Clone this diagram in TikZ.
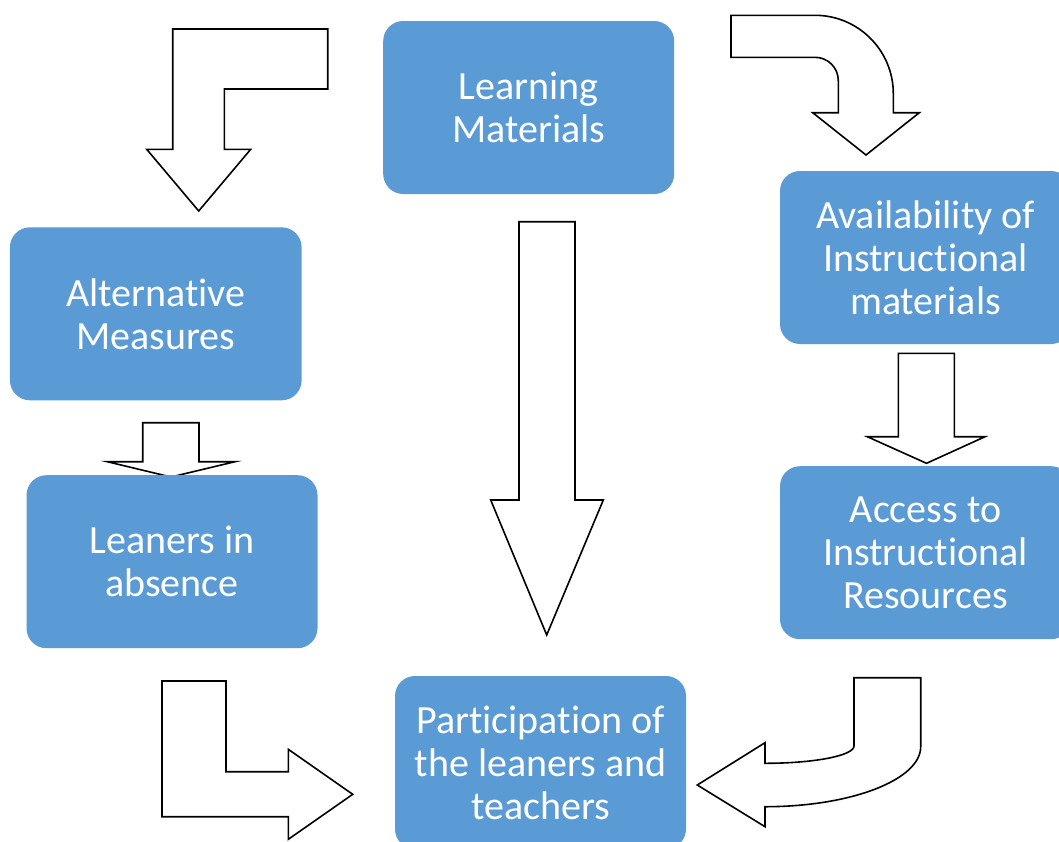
\documentclass[tikz,border=0pt]{standalone}
\usepackage{fontspec}
\setmainfont{Carlito}[Ligatures={NoCommon}]
\definecolor{boxblue}{HTML}{5B9BD5}
\tikzset{
  blockbox/.style={fill=boxblue, rounded corners=20pt, minimum width=291pt, minimum height=173pt,
    inner sep=0pt, text=white, align=center, font=\fontsize{40}{43}\selectfont},
  blockarrow/.style={draw=black, fill=white, line width=1.6pt, line join=miter}
}
\begin{document}
\begin{tikzpicture}[x=1pt,y=-1pt]
\useasboundingbox (0,0) rectangle (1059,841);
\clip (0,0) rectangle (1059,841);
\fill[white] (0,0) rectangle (1059,841);
% arrows
\draw[blockarrow] (172.7,29) -- (327.7,29) -- (327.7,89) -- (224.3,89) -- (224.3,149.3) -- (250.7,149.3) -- (198.7,211) -- (146.7,149.3) -- (172.7,149.3) -- cycle;
\draw[blockarrow] (731,15.3) -- (815,15.3) .. controls (858.2,15.3) and (893.3,50.4) .. (893.3,93.6) -- (893.3,112.7) -- (919.3,112.7) -- (866,155) -- (812.7,112.7) -- (838.3,112.7) -- (838.3,80.6) .. controls (838.3,67.7) and (827.9,57.3) .. (815,57.3) -- (731,57.3) -- cycle;
\draw[blockarrow] (519,221.7) -- (575,221.7) -- (575,500) -- (603.3,500) -- (546.7,635) -- (490.7,500) -- (519,500) -- cycle;
\draw[blockarrow] (898.3,353.3) -- (954.3,353.3) -- (954.3,436.7) -- (985,436.7) -- (926.5,463.3) -- (867.3,436.7) -- (898.3,436.7) -- cycle;
\draw[blockarrow] (142.7,422.7) -- (199,422.7) -- (199,461.7) -- (235,461.7) -- (171,477) -- (107.3,461.7) -- (142.7,461.7) -- cycle;
\draw[blockarrow] (162,681) -- (226,681) -- (226,771.7) -- (288.3,771.7) -- (288.3,749.3) -- (352.7,794.3) -- (288.3,839.3) -- (288.3,816.7) -- (162,816.7) -- cycle;
\draw[blockarrow] (854,677.7) -- (920.7,677.7) -- (920.7,746.7) .. controls (920.7,779.8) and (851,806.7) .. (765,806.7) -- (765,826.7) -- (697.3,785) -- (765,742.7) -- (765,763.3) .. controls (814.2,763.3) and (854,755.6) .. (854,746) -- cycle;
% boxes
\node[blockbox] (lm) at (528.7,107.5) {Learning\\Materials};
\node[blockbox] (av) at (925.5,257.5) {Availability of\\Instructional\\materials};
\node[blockbox, minimum width=291.7pt] (alt) at (155.8,313.8) {Alternative\\Measures};
\node[blockbox] (lea) at (172,561.7) {Leaners in\\absence};
\node[blockbox] (acc) at (925.5,552.7) {Access to\\Instructional\\Resources};
\node[blockbox] (par) at (540.5,762.5) {Participation of\\the leaners and\\teachers};
\end{tikzpicture}
\end{document}
